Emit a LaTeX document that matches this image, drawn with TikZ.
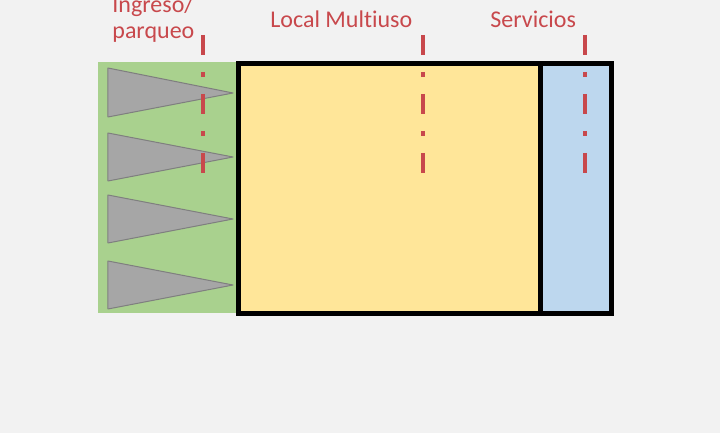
\documentclass[tikz,border=0pt]{standalone}
\usepackage{fontspec}
\setmainfont[Ligatures=NoCommon]{Carlito}
\usepackage{xcolor}
\usepackage{tikz}
\definecolor{planred}{RGB}{200,72,76}
\definecolor{entrygreen}{RGB}{169,209,142}
\definecolor{hallyellow}{RGB}{255,230,153}
\definecolor{wcblue}{RGB}{189,215,238}
\definecolor{bggray}{RGB}{242,242,242}
\tikzstyle{zone} = [draw=black, line width=2.5pt]
\tikzstyle{car} = [fill={rgb,255:red,166;green,166;blue,166}, draw={rgb,255:red,127;green,127;blue,127}, line width=0.5pt, line join=round]
\tikzstyle{axis} = [draw=planred, line width=2pt, dash pattern=on 10pt off 8.5pt on 2.5pt off 8.5pt]
\tikzstyle{tag} = [text=planred, font=\fontsize{12}{13}\selectfont, inner sep=0pt]

\begin{document}
\begin{tikzpicture}[x=0.5pt,y=-0.5pt]
      % page
      \fill[bggray] (0,0) rectangle (720,433);
      \useasboundingbox (0,0) rectangle (720,433);

      % green entrance strip
      \fill[entrygreen] (98,62) rectangle (237,313);

      % parking triangles
      \foreach \t/\b/\m in {68/117/93, 133/181/157, 195/243/219, 261/309/285}
        \draw[car] (108,\t) -- (233,\m) -- (108,\b) -- cycle;

      % hall and services
      \fill[hallyellow] (238.5,63.5) rectangle (540.5,313.5);
      \fill[wcblue] (540.5,63.5) rectangle (611.5,313.5);
      \draw[zone] (238.5,63.5) rectangle (611.5,313.5);
      \draw[zone] (540.5,63.5) -- (540.5,313.5);

      % red axes
      \foreach \x in {203,423,585}
        \draw[axis] (\x,35) -- (\x,173);

      % labels
      \node[tag, anchor=base west, align=left] (ingreso) at (112,39) {Ingreso/\\parqueo};
      \node[tag, anchor=base west] (local) at (270,28) {Local Multiuso};
      \node[tag, anchor=base west] (servicios) at (490,28) {Servicios};
    \end{tikzpicture}
\end{document}
